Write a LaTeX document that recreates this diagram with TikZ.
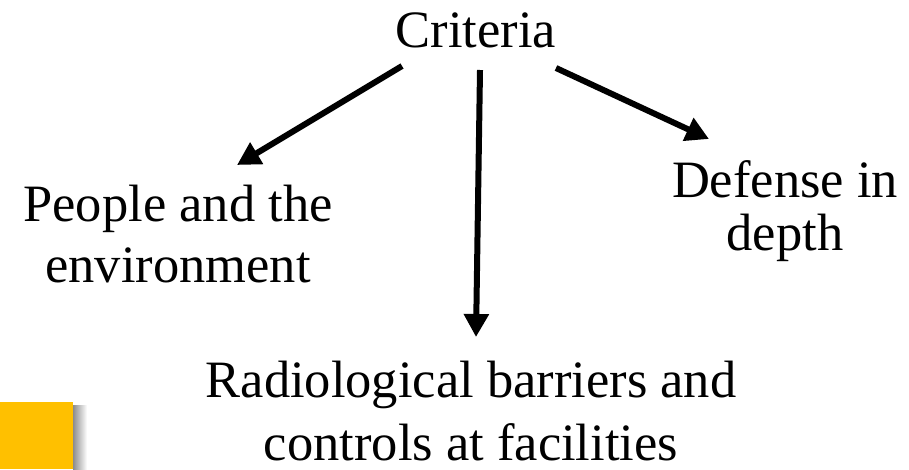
\documentclass[tikz,border=0pt]{standalone}
\usepackage{fontspec}
\setmainfont{Liberation Serif}
\usetikzlibrary{arrows.meta}
\begin{document}
\begin{tikzpicture}[x=1pt,y=-1pt,
  lbl/.style={inner sep=0pt, align=center, font=\fontsize{52.5}{61}\selectfont},
  arr/.style={line width=6pt, -{Triangle[length=23pt,width=24pt]}}]
\useasboundingbox (0,0) rectangle (909,469);
\fill[white] (0,0) rectangle (909,469);
% decorative block with shadow
\shade[left color=black!45, right color=white] (73,405) rectangle (87,469);
\fill[fill={rgb,255:red,255;green,192;blue,0}] (0,402) rectangle (73,469);
% labels (base anchor = baseline of last line)
\node[lbl, anchor=base] (crit) at (476,47) {Criteria};
\node[lbl, anchor=base] (people) at (178,282) {People and the\\environment};
\node[lbl, anchor=base, font=\fontsize{52.5}{53}\selectfont] (defense) at (785,250) {Defense in\\depth};
\node[lbl, anchor=base, font=\fontsize{52.5}{63}\selectfont] (radio) at (471,460) {Radiological barriers and\\controls at facilities};
% connector end points
\coordinate (s1) at (402,66);
\coordinate (e1) at (237,165);
\coordinate (s2) at (480,70);
\coordinate (e2) at (476,337);
\coordinate (s3) at (556,68);
\coordinate (e3) at (709,139);
\draw[arr] (s1) -- (e1);
\draw[arr] (s2) -- (e2);
\draw[arr] (s3) -- (e3);
\end{tikzpicture}
\end{document}
